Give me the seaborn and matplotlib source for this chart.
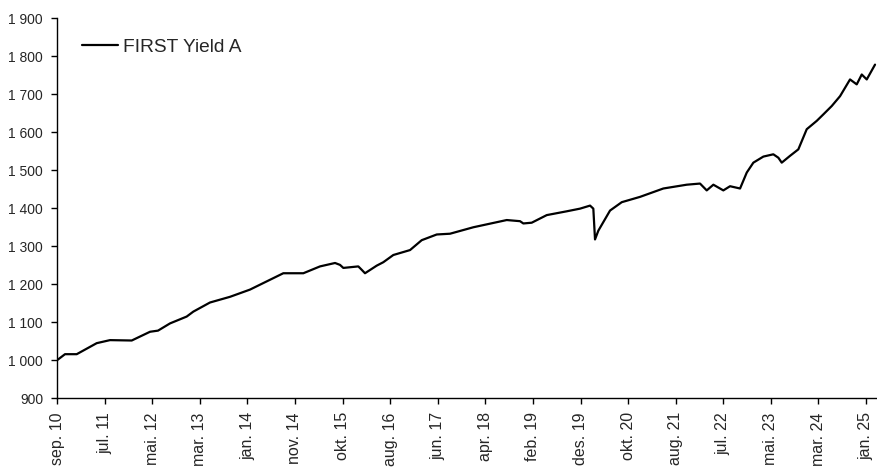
import matplotlib
matplotlib.use("Agg")
import matplotlib.pyplot as plt
import matplotlib.ticker as mticker
import numpy as np
import pandas as pd
import seaborn as sns

# --- data (decimal year, value) ---
years = [2010.667, 2010.809, 2011.017, 2011.372, 2011.608, 2011.994, 2012.319, 2012.461,
         2012.674, 2012.970, 2013.088, 2013.384, 2013.740, 2014.095, 2014.686, 2015.042,
         2015.338, 2015.605, 2015.693, 2015.752, 2016.018, 2016.079, 2016.137, 2016.345,
         2016.462, 2016.640, 2016.937, 2017.144, 2017.411, 2017.647, 2018.061, 2018.654,
         2018.890, 2018.949, 2019.098, 2019.365, 2019.720, 2019.956, 2020.134, 2020.192,
         2020.222, 2020.281, 2020.489, 2020.697, 2021.022, 2021.435, 2021.851, 2022.087,
         2022.206, 2022.324, 2022.501, 2022.620, 2022.798, 2022.917, 2023.034, 2023.212,
         2023.389, 2023.478, 2023.538, 2023.686, 2023.833, 2023.982, 2024.160, 2024.277,
         2024.426, 2024.574, 2024.751, 2024.870, 2024.959, 2025.048, 2025.195]
values = [1000, 1016, 1016, 1045, 1053, 1052, 1075, 1078,
          1097, 1115, 1128, 1152, 1167, 1186, 1229, 1229,
          1247, 1256, 1251, 1243, 1247, 1238, 1229, 1249,
          1258, 1277, 1290, 1316, 1331, 1333, 1350, 1369,
          1366, 1360, 1362, 1382, 1392, 1399, 1407, 1399,
          1318, 1341, 1394, 1416, 1430, 1452, 1462, 1465,
          1447, 1462, 1447, 1458, 1452, 1494, 1520, 1536,
          1542, 1533, 1520, 1538, 1555, 1608, 1630, 1647,
          1669, 1695, 1739, 1726, 1752, 1739, 1778]
series_name = "FIRST Yield A"
x_labels = ["sep. 10", "jul. 11", "mai. 12", "mar. 13", "jan. 14", "nov. 14",
            "okt. 15", "aug. 16", "jun. 17", "apr. 18", "feb. 19", "des. 19",
            "okt. 20", "aug. 21", "jul. 22", "mai. 23", "mar. 24", "jan. 25"]
y_ticks = [900, 1000, 1100, 1200, 1300, 1400, 1500, 1600, 1700, 1800, 1900]

df = pd.DataFrame({"t": years, "v": values})

sns.set_style("ticks")
plt.rcParams["font.family"] = ["Liberation Sans", "DejaVu Sans"]

fig = plt.figure(figsize=(8.77, 4.68), dpi=100)
ax = fig.add_axes([0.065, 0.149, 0.935, 0.812])

sns.lineplot(data=df, x="t", y="v", ax=ax, color="black", linewidth=1.6,
             label=series_name)

ax.set_xlim(2010.667, 2025.23)
ax.set_ylim(900, 1900)
ax.set_yticks(y_ticks)
ax.yaxis.set_major_formatter(mticker.FuncFormatter(lambda v, p: f"{int(v):,}".replace(",", " ")))

tick_pos = np.linspace(2010.667, 2025.036, len(x_labels))
ax.set_xticks(tick_pos)
ax.set_xticklabels(x_labels, rotation=90, fontsize=11.5)
ax.tick_params(axis="y", labelsize=10, length=4, width=1, pad=6, color="black")
ax.tick_params(axis="x", length=4, width=1, pad=6, color="black")
ax.set_xlabel("")
ax.set_ylabel("")

for s in ["top", "right"]:
    ax.spines[s].set_visible(False)
for s in ["left", "bottom"]:
    ax.spines[s].set_color("black")
    ax.spines[s].set_linewidth(1)

ax.legend(loc="center left", bbox_to_anchor=(0.03, 0.924), frameon=False,
          borderpad=0, borderaxespad=0, handlelength=1.9, handletextpad=0.25,
          fontsize=13.8)

fig.savefig("out.png", dpi=100)
